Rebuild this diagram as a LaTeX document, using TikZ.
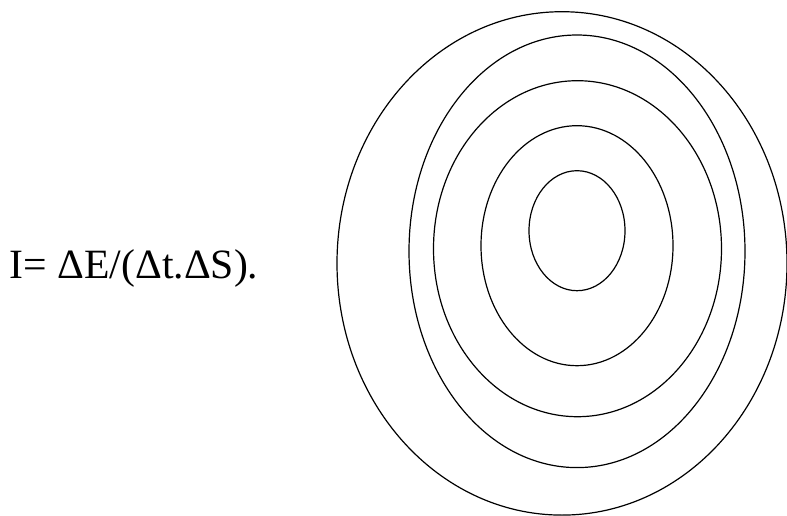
\documentclass[tikz,border=0pt]{standalone}
\usepackage{fontspec}
\setmainfont{Liberation Serif}
\begin{document}
\begin{tikzpicture}[x=1pt,y=-1pt,
  ring/.style={draw=black,line width=1.2pt},
  formula/.style={anchor=base west,inner sep=0pt,font=\fontsize{41.7pt}{48pt}\selectfont}]
\useasboundingbox (0,0) rectangle (787,516);
\node[formula] (eq) at (9.4,278.3) {I= ΔE/(Δt.ΔS).};
\draw[ring] (562,263.4) ellipse [x radius=225, y radius=251.7];
\draw[ring] (577,251.3) ellipse [x radius=168, y radius=216.3];
\draw[ring] (577.5,248.7) ellipse [x radius=144, y radius=168];
\draw[ring] (577,245.7) ellipse [x radius=96, y radius=120];
\draw[ring] (577,230.7) ellipse [x radius=48, y radius=60];
\end{tikzpicture}
\end{document}
